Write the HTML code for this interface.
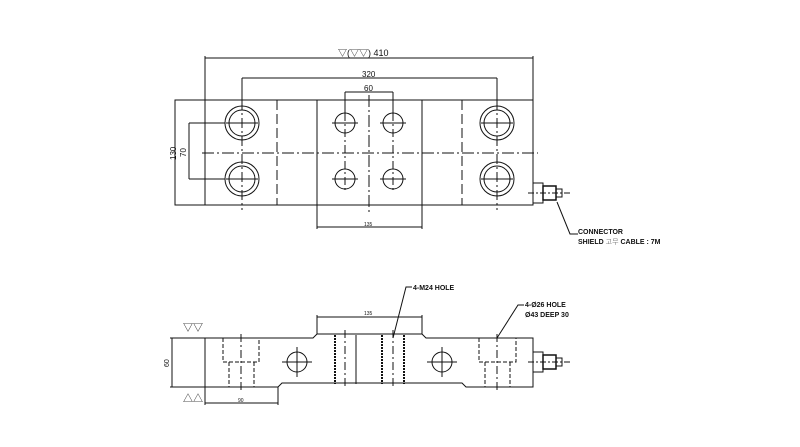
<!DOCTYPE html>
<html><head><meta charset="utf-8"><style>
html,body{margin:0;padding:0;background:#fff;}
svg{display:block;}
text{font-family:"Liberation Sans","Noto Sans CJK KR",sans-serif;fill:#111;}
</style></head><body>
<svg width="800" height="447" viewBox="0 0 800 447" xmlns="http://www.w3.org/2000/svg">
<g stroke="#111" stroke-width="1" fill="none">
<!-- TOP VIEW -->
<rect x="175" y="100" width="358" height="105"/>
<line x1="205" y1="56" x2="205" y2="205"/>
<line x1="533" y1="56" x2="533" y2="100"/>
<line x1="205" y1="58" x2="533" y2="58"/>
<line x1="242" y1="78" x2="497" y2="78"/>
<line x1="242" y1="78" x2="242" y2="106"/>
<line x1="497" y1="78" x2="497" y2="106"/>
<line x1="345" y1="92" x2="393" y2="92"/>
<line x1="345" y1="92" x2="345" y2="113"/>
<line x1="393" y1="92" x2="393" y2="113"/>
<line x1="317" y1="100" x2="317" y2="229"/>
<line x1="422" y1="100" x2="422" y2="229"/>
<line x1="317" y1="227" x2="422" y2="227"/>
<line x1="277" y1="100" x2="277" y2="205" stroke-dasharray="10,4"/>
<line x1="462" y1="100" x2="462" y2="205" stroke-dasharray="10,4"/>
<line x1="369" y1="95" x2="369" y2="215" stroke-dasharray="12,3,2,3"/>
<line x1="202" y1="153" x2="538" y2="153" stroke-dasharray="12,3,2,3"/>
<line x1="189" y1="123" x2="225" y2="123"/>
<line x1="189" y1="179" x2="225" y2="179"/>
<line x1="189" y1="123" x2="189" y2="179"/>
<!-- big holes -->
<g>
<circle cx="242" cy="123" r="17"/><circle cx="242" cy="123" r="13"/>
<circle cx="242" cy="179" r="17"/><circle cx="242" cy="179" r="13"/>
<circle cx="497" cy="123" r="17"/><circle cx="497" cy="123" r="13"/>
<circle cx="497" cy="179" r="17"/><circle cx="497" cy="179" r="13"/>
<line x1="242" y1="100" x2="242" y2="210" stroke-dasharray="10,3,2,3"/>
<line x1="497" y1="100" x2="497" y2="210" stroke-dasharray="10,3,2,3"/>
<line x1="226" y1="123" x2="258" y2="123"/><line x1="226" y1="179" x2="258" y2="179"/>
<line x1="481" y1="123" x2="513" y2="123"/><line x1="481" y1="179" x2="513" y2="179"/>
</g>
<!-- small holes -->
<circle cx="345" cy="123" r="10"/><circle cx="393" cy="123" r="10"/>
<circle cx="345" cy="179" r="10"/><circle cx="393" cy="179" r="10"/>
<line x1="332" y1="123" x2="358" y2="123"/><line x1="380" y1="123" x2="406" y2="123"/>
<line x1="332" y1="179" x2="358" y2="179"/><line x1="380" y1="179" x2="406" y2="179"/>
<line x1="345" y1="113" x2="345" y2="190" stroke-dasharray="8,3,2,3"/>
<line x1="393" y1="113" x2="393" y2="190" stroke-dasharray="8,3,2,3"/>
<!-- connector top -->
<rect x="533" y="183" width="10" height="20"/>
<rect x="543" y="186" width="13" height="14" stroke-width="1.5"/>
<rect x="556" y="189" width="6" height="8"/>
<line x1="528" y1="193" x2="570" y2="193" stroke-dasharray="6,2,2,2"/>
<polyline points="557,202 570,234 578,234"/>

<!-- BOTTOM VIEW -->
<path d="M205,338 L313,338 L317,334 L422,334 L426,338 L533,338 L533,387 L466,387 L462,383 L282,383 L278,387 L205,387 Z"/>
<line x1="317" y1="334" x2="317" y2="315"/>
<line x1="422" y1="334" x2="422" y2="315"/>
<line x1="317" y1="317" x2="422" y2="317"/>
<line x1="170" y1="338" x2="205" y2="338"/>
<line x1="170" y1="387" x2="205" y2="387"/>
<line x1="172" y1="338" x2="172" y2="387"/>
<line x1="205" y1="387" x2="205" y2="405"/>
<line x1="278" y1="387" x2="278" y2="405"/>
<line x1="205" y1="403" x2="278" y2="403"/>
<g stroke-dasharray="4,2">
<polyline points="223,338 223,362 259,362 259,338"/>
<line x1="229" y1="362" x2="229" y2="387"/><line x1="254" y1="362" x2="254" y2="387"/>
<polyline points="479,338 479,362 516,362 516,338"/>
<line x1="485" y1="362" x2="485" y2="387"/><line x1="510" y1="362" x2="510" y2="387"/>
</g>
<line x1="241" y1="334" x2="241" y2="390" stroke-dasharray="8,3,2,3"/>
<line x1="497" y1="334" x2="497" y2="390" stroke-dasharray="8,3,2,3"/>
<circle cx="297" cy="362" r="10"/><circle cx="442" cy="362" r="10"/>
<line x1="282" y1="362" x2="312" y2="362"/><line x1="297" y1="347" x2="297" y2="377"/>
<line x1="427" y1="362" x2="457" y2="362"/><line x1="442" y1="347" x2="442" y2="377"/>
<line x1="335" y1="335" x2="335" y2="384" stroke-width="2" stroke-dasharray="2,1"/>
<line x1="345" y1="330" x2="345" y2="388" stroke-dasharray="8,3,2,3"/>
<line x1="356" y1="335" x2="356" y2="384"/>
<line x1="382" y1="335" x2="382" y2="384" stroke-width="2" stroke-dasharray="2,1"/>
<line x1="393" y1="330" x2="393" y2="388" stroke-dasharray="8,3,2,3"/>
<line x1="404" y1="335" x2="404" y2="384" stroke-width="2" stroke-dasharray="2,1"/>
<polyline points="393,338 406,287 412,287"/>
<polyline points="497,338 518,305 524,305"/>
<!-- connector bottom -->
<rect x="533" y="352" width="10" height="20"/>
<rect x="543" y="355" width="13" height="14" stroke-width="1.5"/>
<rect x="556" y="358" width="6" height="8"/>
<line x1="528" y1="362" x2="570" y2="362" stroke-dasharray="6,2,2,2"/>
</g>
<g font-size="8">
<text x="338" y="56" font-size="9">▽(▽▽)  410</text>
<text x="362" y="77" font-size="8">320</text>
<text x="364" y="91" font-size="8">60</text>
<text x="364" y="226" font-size="5">135</text>
<text x="0" y="0" font-size="8" transform="translate(176,160) rotate(-90)">130</text>
<text x="0" y="0" font-size="8" transform="translate(186,157) rotate(-90)">70</text>
<text x="578" y="234" font-size="7" font-weight="bold">CONNECTOR</text>
<text x="578" y="244" font-size="7" font-weight="bold">SHIELD <tspan font-weight="normal" fill="#888">고무</tspan> CABLE : 7M</text>
<text x="413" y="290" font-size="7" font-weight="bold">4-M24 HOLE</text>
<text x="525" y="307" font-size="7" font-weight="bold">4-Ø26 HOLE</text>
<text x="525" y="317" font-size="7" font-weight="bold">Ø43 DEEP 30</text>
<text x="364" y="315" font-size="5">135</text>
<text x="238" y="402" font-size="5">90</text>
<text x="0" y="0" font-size="7" transform="translate(169,367) rotate(-90)">60</text>
<text x="183" y="331" font-size="10">▽▽</text>
<text x="183" y="402" font-size="10">△△</text>
</g>
</svg>
</body></html>
